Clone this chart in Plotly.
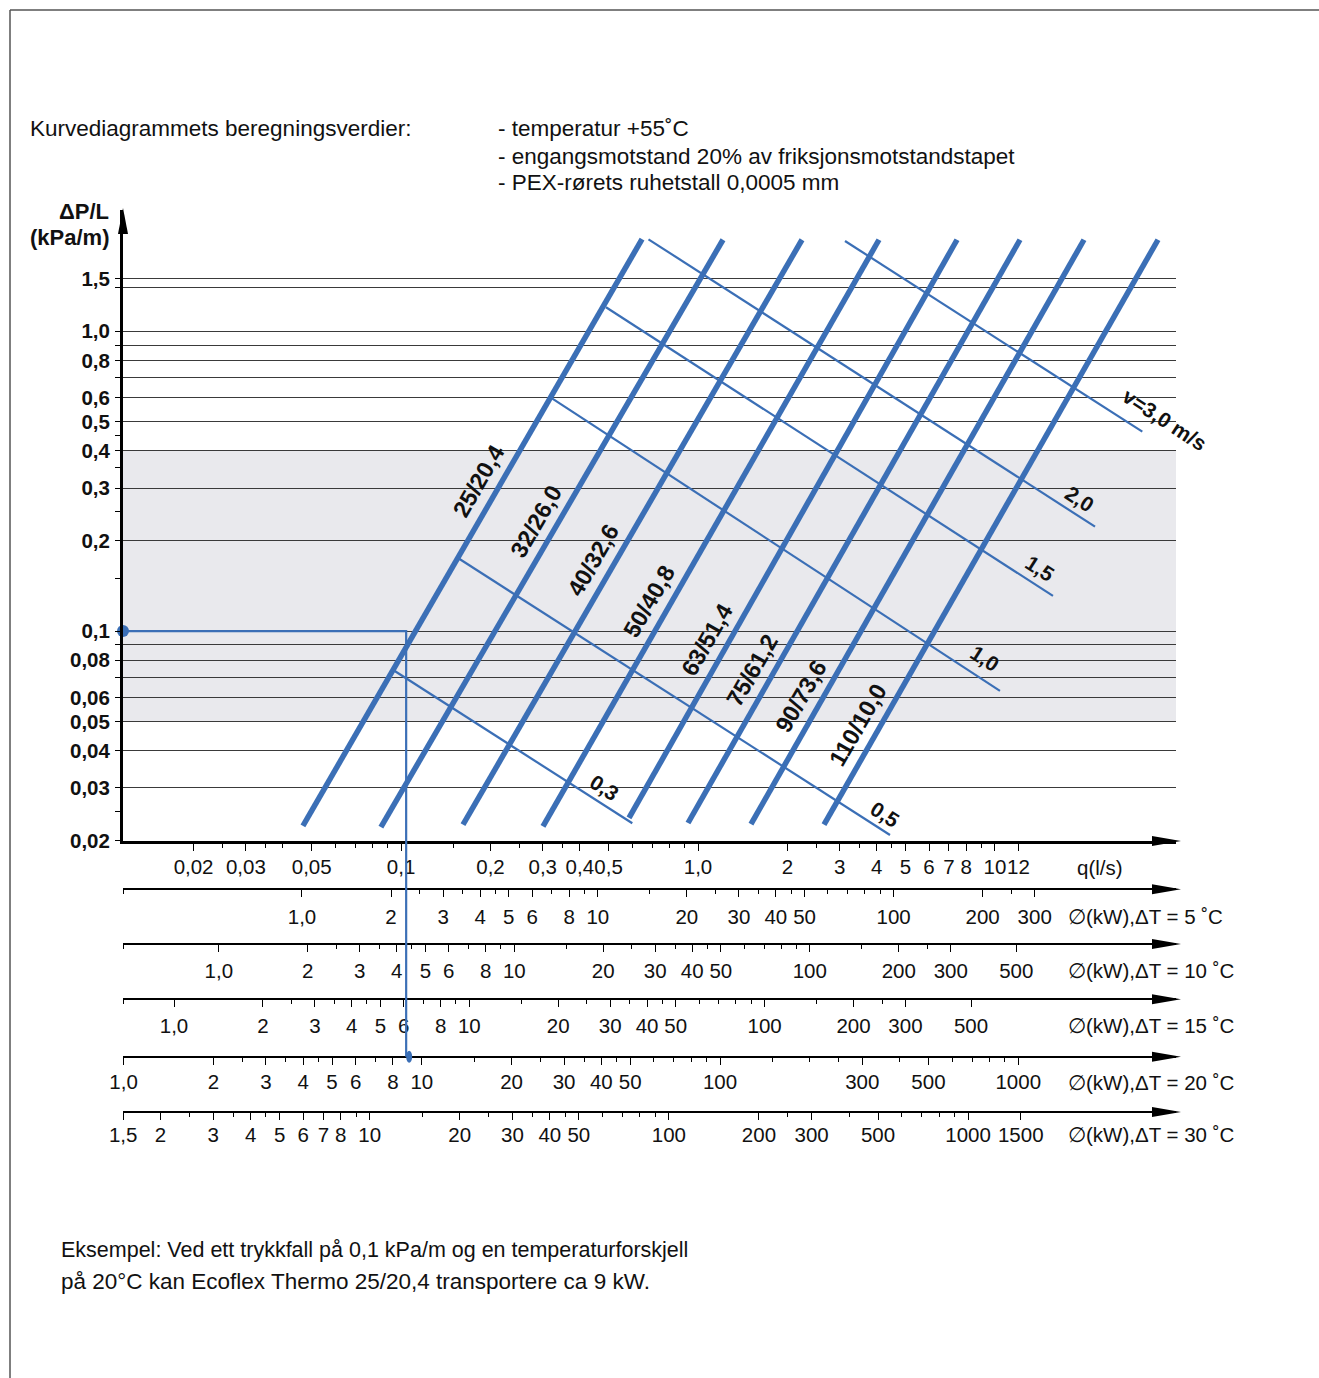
import numpy as np
import plotly.graph_objects as go

# ---------------- data ----------------
dp_ticks = [1.5, 1.4, 1.0, 0.9, 0.8, 0.7, 0.6, 0.5, 0.4, 0.3, 0.2, 0.1,
            0.09, 0.08, 0.07, 0.06, 0.05, 0.04, 0.03, 0.02]
dp_ticktext = ["1,5", "", "1,0", "", "0,8", "", "0,6", "0,5", "0,4", "0,3", "0,2", "0,1",
               "", "0,08", "", "0,06", "0,05", "0,04", "0,03", "0,02"]
dp_minor = [0.45, 0.35, 0.25, 0.15, 0.025]
shade_band = [0.05, 0.4]

q_ticks = [0.02, 0.03, 0.05, 0.1, 0.2, 0.3, 0.4, 0.5, 1, 2, 3, 4, 5, 6, 7, 8, 10, 12]
q_ticktext = ["0,02", "0,03", "0,05", "0,1", "0,2", "0,3", "0,4", "0,5", "1,0",
              "2", "3", "4", "5", "6", "7", "8", "10", "12"]
q_minor = [0.025, 0.035, 0.04, 0.06, 0.07, 0.08, 0.09, 0.15, 0.25, 0.35,
           0.6, 0.7, 0.8, 0.9, 2.5, 3.5, 4.5, 9]

pipe_names = ["25/20,4", "32/26,0", "40/32,6", "50/40,8", "63/51,4", "75/61,2", "90/73,6", "110/10,0"]
pipe_q_low = [0.0467, 0.0855, 0.1616, 0.3005, 0.5856, 0.9254, 1.508, 2.657]
pipe_dp_low = [0.0224, 0.0222, 0.0226, 0.0223, 0.0238, 0.0229, 0.0227, 0.0226]
pipe_q_high = [0.648, 1.214, 2.240, 4.070, 7.455, 12.15, 19.96, 35.43]
pipe_dp_high = [2.03, 2.02, 2.02, 2.02, 2.02, 2.02, 2.02, 2.02]

vel_names = ["0,3", "0,5", "1,0", "1,5", "2,0", "v=3,0 m/s"]
vel_q_start = [0.0946, 0.1559, 0.3223, 0.4899, 0.6812, 3.127]
vel_dp_start = [0.0739, 0.1749, 0.5977, 1.2026, 2.027, 2.001]
vel_q_end = [0.6008, 4.433, 10.40, 15.69, 21.74, 31.37]
vel_dp_end = [0.02285, 0.02089, 0.06314, 0.1310, 0.2230, 0.4625]

ex_dp = 0.1      # kPa/m
ex_q = 0.104     # l/s
ex_kw = 9        # kW at dT = 20

kw_dT = [5, 10, 15, 20, 30]
kw5_ticks = [1, 2, 3, 4, 5, 6, 8, 10, 20, 30, 40, 50, 100, 200, 300]
kw5_minor = [2.5, 3.5, 4.5, 7, 9, 15, 25, 35, 45, 60, 70, 80, 90, 250]
kw10_ticks = [1, 2, 3, 4, 5, 6, 8, 10, 20, 30, 40, 50, 100, 200, 300, 500]
kw10_minor = [2.5, 3.5, 4.5, 7, 9, 15, 25, 35, 45, 60, 70, 80, 90, 150, 250]
kw15_ticks = [1, 2, 3, 4, 5, 6, 8, 10, 20, 30, 40, 50, 100, 200, 300, 500]
kw15_minor = [2.5, 3.5, 4.5, 7, 9, 15, 25, 35, 45, 60, 70, 80, 90, 150, 250]
kw20_ticks = [1, 2, 3, 4, 5, 6, 8, 10, 20, 30, 40, 50, 100, 300, 500, 1000]
kw20_minor = [2.5, 3.5, 4.5, 7, 9, 15, 25, 35, 45, 60, 70, 80, 90, 150, 200, 250,
              400, 600, 700, 800, 900]
kw30_ticks = [1.5, 2, 3, 4, 5, 6, 7, 8, 10, 20, 30, 40, 50, 100, 200, 300, 500, 1000, 1500]
kw30_minor = [2.5, 3.5, 4.5, 9, 15, 25, 35, 45, 60, 70, 80, 90, 250, 400, 600, 700, 800, 900]

# ---------------- layout geometry ----------------
W, H = 1319, 1378
ML, MR, MT, MB = 123, 143, 210, 266
PW, PH = W - ML - MR, H - MT - MB


def pxx(x):
    return (x - ML) / PW


def pyy(y):
    return (H - MB - y) / PH


FONT = "Liberation Sans, Arial, Helvetica, sans-serif"
BLUE = "#3b6fb6"
TICK_SIZE = 20.5
TEXT_SIZE = 22.5
LABEL_SIZE = 23.5
q_range = [-1.9367, 1.6100]
dp_range = [-1.7002, 0.4046]
ydom_bottom = pyy(841)
kw_ranges = [[-0.6051, 2.9547], [-0.3242, 3.2393], [-0.1727, 3.3932],
             [-0.0020, 3.5290], [0.1755, 3.6949]]
kw_positions = [pyy(889.3), pyy(944), pyy(999.3), pyy(1056.7), 0.0]
kw_standoff = [2, 1, 1, 0, -3]
kw_ticklists = [kw5_ticks, kw10_ticks, kw15_ticks, kw20_ticks, kw30_ticks]
kw_minorlists = [kw5_minor, kw10_minor, kw15_minor, kw20_minor, kw30_minor]


def fmt(v):
    if v == 1:
        return "1,0"
    if v == 1.5:
        return "1,5"
    return str(int(v))


fig = go.Figure()

# velocity lines
for i in range(len(vel_names)):
    fig.add_trace(go.Scatter(x=[vel_q_start[i], vel_q_end[i]], y=[vel_dp_start[i], vel_dp_end[i]],
                             mode="lines", line=dict(color=BLUE, width=2.2),
                             hoverinfo="skip", showlegend=False))
# pipe lines
for i in range(len(pipe_names)):
    fig.add_trace(go.Scatter(x=[pipe_q_low[i], pipe_q_high[i]], y=[pipe_dp_low[i], pipe_dp_high[i]],
                             mode="lines", line=dict(color=BLUE, width=5.5),
                             hoverinfo="skip", showlegend=False))
# example lines within main axes
fig.add_trace(go.Scatter(x=[10 ** q_range[0], ex_q, ex_q], y=[ex_dp, ex_dp, 10 ** dp_range[0]],
                         mode="lines", line=dict(color=BLUE, width=2.2),
                         hoverinfo="skip", showlegend=False))
fig.add_trace(go.Scatter(x=[10 ** q_range[0]], y=[ex_dp], mode="markers",
                         marker=dict(color=BLUE, size=12), cliponaxis=False,
                         hoverinfo="skip", showlegend=False))

# dummy traces to activate the kW axes
for k in range(5):
    fig.add_trace(go.Scatter(x=[10 ** kw_ranges[k][0], 10 ** kw_ranges[k][1]], y=[0.1, 0.1],
                             xaxis="x%d" % (k + 2), yaxis="y", mode="markers",
                             marker=dict(opacity=0), hoverinfo="skip", showlegend=False))

axis_font = dict(family=FONT, size=TICK_SIZE, color="#111")
layout = dict(
    width=W, height=H,
    margin=dict(l=ML, r=MR, t=MT, b=MB),
    paper_bgcolor="white", plot_bgcolor="rgba(0,0,0,0)",
    showlegend=False,
    font=dict(family=FONT, size=19, color="#111"),
    xaxis=dict(type="log", range=q_range, domain=[0, 1], anchor="y",
               showline=True, linewidth=3, linecolor="black", showgrid=False, zeroline=False,
               ticks="outside", ticklen=7, tickwidth=1.4, tickcolor="black",
               tickvals=q_ticks, ticktext=q_ticktext, tickangle=0, tickfont=axis_font,
               ticklabelstandoff=-2,
               minor=dict(tickmode="array", tickvals=q_minor, ticks="outside", ticklen=4,
                          tickwidth=1.2, tickcolor="black", showgrid=False)),
    yaxis=dict(type="log", range=dp_range, domain=[ydom_bottom, 1], anchor="x",
               showline=True, linewidth=3, linecolor="black", zeroline=False,
               showgrid=True, gridcolor="#3a3a3a", gridwidth=1,
               ticks="outside", ticklen=5, tickwidth=1.4, tickcolor="black",
               tickvals=dp_ticks, ticktext=dp_ticktext,
               tickfont=dict(family=FONT, size=TICK_SIZE, color="#111", weight="bold"),
               ticklabelstandoff=1,
               minor=dict(tickmode="array", tickvals=dp_minor, ticks="outside", ticklen=5,
                          tickwidth=1.2, tickcolor="black", showgrid=False)),
)
for k in range(5):
    layout["xaxis%d" % (k + 2)] = dict(
        type="log", range=kw_ranges[k], overlaying="x", anchor="free", position=kw_positions[k],
        side="bottom", showline=True, linewidth=2, linecolor="black", showgrid=False, zeroline=False,
        ticks="outside", ticklen=7, tickwidth=1.4, tickcolor="black",
        tickvals=kw_ticklists[k], ticktext=[fmt(v) for v in kw_ticklists[k]], tickangle=0,
        tickfont=axis_font, ticklabelstandoff=kw_standoff[k],
        minor=dict(tickmode="array", tickvals=kw_minorlists[k] + [10 ** kw_ranges[k][0] * 1.001],
                   ticks="outside", ticklen=4, tickwidth=1.2, tickcolor="black", showgrid=False))
fig.update_layout(**layout)

shapes = []
# shaded band
shapes.append(dict(type="rect", xref="x domain", x0=0, x1=1, yref="y", y0=shade_band[0], y1=shade_band[1],
                   fillcolor="#e9e9ed", line=dict(width=0), layer="below"))
# example line below main axes
shapes.append(dict(type="line", xref="x", x0=ex_q, x1=ex_q, yref="paper", y0=ydom_bottom,
                   y1=kw_positions[3], line=dict(color=BLUE, width=2.2)))
shapes.append(dict(type="circle", xref="x", xsizemode="pixel", xanchor=ex_q, x0=-6, x1=6,
                   yref="paper", ysizemode="pixel", yanchor=kw_positions[3], y0=-6, y1=6,
                   fillcolor=BLUE, line=dict(width=0)))
# arrow heads
shapes.append(dict(type="path", xref="paper", xsizemode="pixel", xanchor=1,
                   yref="paper", ysizemode="pixel", yanchor=ydom_bottom,
                   path="M 5,0 L -24,5 L -24,-5 Z", fillcolor="black", line=dict(width=0)))
for p in kw_positions:
    shapes.append(dict(type="path", xref="paper", xsizemode="pixel", xanchor=1,
                       yref="paper", ysizemode="pixel", yanchor=p,
                       path="M 5,0 L -24,5 L -24,-5 Z", fillcolor="black", line=dict(width=0)))
shapes.append(dict(type="path", xref="paper", xsizemode="pixel", xanchor=0,
                   yref="paper", ysizemode="pixel", yanchor=1,
                   path="M 0,2 L -5,-24 L 5,-24 Z", fillcolor="black", line=dict(width=0)))
# frame
shapes.append(dict(type="line", xref="paper", yref="paper", x0=pxx(10), x1=pxx(1319),
                   y0=pyy(10), y1=pyy(10), line=dict(color="#555", width=1.5)))
shapes.append(dict(type="line", xref="paper", yref="paper", x0=pxx(10), x1=pxx(10),
                   y0=pyy(10), y1=pyy(1378), line=dict(color="#555", width=1.5)))
fig.update_layout(shapes=shapes)

ann = []


def txt(s, x, y, xanchor="left", bold=False, size=TEXT_SIZE, angle=0):
    return dict(text=s, xref="paper", yref="paper", x=pxx(x), y=pyy(y), xanchor=xanchor,
                yanchor="middle", showarrow=False, textangle=angle,
                font=dict(family=FONT, size=size, color="#111", weight="bold" if bold else "normal"))


ann.append(txt("Kurvediagrammets beregningsverdier:", 28, 129))
ann.append(txt("- temperatur +55˚C", 496, 129))
ann.append(txt("- engangsmotstand 20% av friksjonsmotstandstapet", 496, 156))
ann.append(txt("- PEX-rørets ruhetstall 0,0005 mm", 496, 183))
ann.append(txt("ΔP/L", 111, 211, xanchor="right", bold=True, size=22))
ann.append(txt("(kPa/m)", 111, 238, xanchor="right", bold=True, size=22))
ann.append(txt("q(l/s)", 1075, 867, size=TICK_SIZE))
for k, y in enumerate([916, 970, 1025, 1082, 1134]):
    ann.append(txt("∅(kW),ΔT = %d ˚C" % kw_dT[k], 1066, y, size=TICK_SIZE))
ann.append(txt("Eksempel: Ved ett trykkfall på 0,1 kPa/m og en temperaturforskjell", 59, 1250, size=21.5))
ann.append(txt("på 20°C kan Ecoflex Thermo 25/20,4 transportere ca 9 kW.", 59, 1281))

# pipe labels: placed along each pipe at a given pressure-drop level
pipe_label_dp = [0.3155, 0.2317, 0.1726, 0.1253, 0.0934, 0.0738, 0.0604, 0.0486]
for i, name in enumerate(pipe_names):
    l0, l1 = np.log10(pipe_dp_low[i]), np.log10(pipe_dp_high[i])
    q0, q1 = np.log10(pipe_q_low[i]), np.log10(pipe_q_high[i])
    ld = np.log10(pipe_label_dp[i])
    lq = q0 + (ld - l0) * (q1 - q0) / (l1 - l0)
    ann.append(dict(text=name, x=lq, y=ld, xref="x", yref="y", showarrow=False, textangle=-60,
                    xshift=-23, font=dict(family=FONT, size=LABEL_SIZE, color="#111", weight="bold")))

# velocity labels: near the end of each line
vel_shift = [(-28, 36), (-5, 20), (-15, 32), (-13, 27), (-16, 28), (22, 12)]
for i, name in enumerate(vel_names):
    ann.append(dict(text=name, x=np.log10(vel_q_end[i]), y=np.log10(vel_dp_end[i]), xref="x", yref="y",
                    showarrow=False, textangle=33, xshift=vel_shift[i][0], yshift=vel_shift[i][1],
                    font=dict(family=FONT, size=21, color="#111", weight="bold")))
fig.update_layout(annotations=ann)

fig.write_html("out.html")
